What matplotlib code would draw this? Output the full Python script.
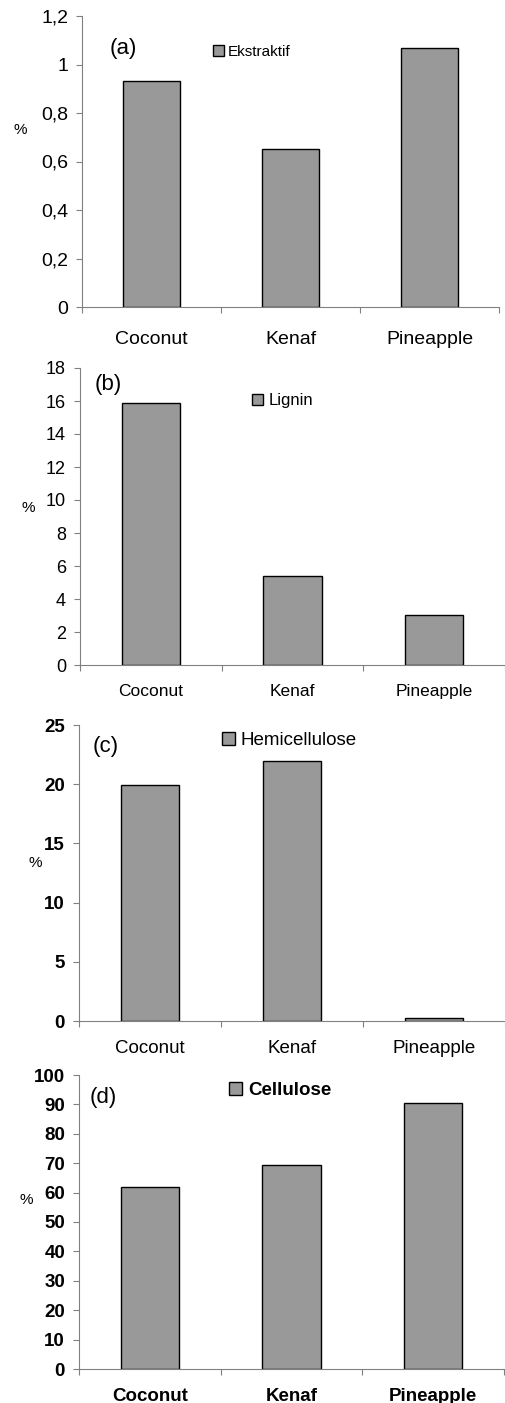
import matplotlib
matplotlib.use("Agg")
import matplotlib.pyplot as plt
from matplotlib.ticker import FixedLocator, FuncFormatter

plt.rcParams['font.family'] = ['Liberation Sans', 'DejaVu Sans']

# Data
fibers = ["Coconut", "Kenaf", "Pineapple"]
extractive = [0.93, 0.65, 1.07]
lignin = [15.9, 5.4, 3.05]
hemicellulose = [19.9, 22.0, 0.25]
cellulose = [62.0, 69.4, 90.5]

panel_names = ["(a)", "(b)", "(c)", "(d)"]
legend_names = ["Ekstraktif", "Lignin", "Hemicellulose", "Cellulose"]
y_maxes = [1.2, 18, 25, 100]
y_steps = [0.2, 2, 5, 10]

BAR_COLOR = "#999999"
AXIS_COLOR = "#808080"

# per panel layout in pixels (left, right, top, bottom) on a 505x1403 canvas
W, H = 505, 1403
boxes = [(82, 499, 16, 307), (80, 505, 368, 665), (79, 505, 725, 1021), (79, 504, 1075, 1369)]
legend_anchor = [(0.314, 0.876), (0.404, 0.89), (0.336, 0.949), (0.353, 0.947)]
tag_pos = [(0.067, 0.89), (0.035, 0.944), (0.032, 0.929), (0.024, 0.922)]
pct_pos = [(0.040, 0.907), (0.055, 0.638), (0.069, 0.385), (0.051, 0.145)]
ytick_weight = ["normal", "normal", "bold", "bold"]
ytick_size = [14, 13, 13.5, 13.5]
xtick_weight = ["normal", "normal", "normal", "bold"]
xtick_size = [14, 12.5, 13.5, 13.5]
xtick_pad = [17, 14, 14, 14]
legend_size = [11, 12, 13.5, 13.5]
legend_weight = ["normal", "normal", "normal", "bold"]


def comma_fmt(v, pos):
    s = f"{v:.1f}".rstrip("0").rstrip(".")
    return s.replace(".", ",")


fig = plt.figure(figsize=(W / 100, H / 100), dpi=100)
series = [extractive, lignin, hemicellulose, cellulose]

for i, values in enumerate(series):
    l, r, t, b = boxes[i]
    ax = fig.add_axes([l / W, 1 - b / H, (r - l) / W, (b - t) / H])

    x = list(range(len(fibers)))
    ax.bar(x, values, width=0.41, color=BAR_COLOR, edgecolor="black", linewidth=1.0,
           label=legend_names[i])

    ax.set_xlim(-0.5, len(fibers) - 0.5)
    ax.set_ylim(0, y_maxes[i])

    # y axis ticks
    n = int(round(y_maxes[i] / y_steps[i]))
    ax.set_yticks([k * y_steps[i] for k in range(n + 1)])
    if i == 0:
        ax.yaxis.set_major_formatter(FuncFormatter(comma_fmt))
    ax.tick_params(axis="y", direction="out", length=4, width=0.8, color=AXIS_COLOR,
                   labelsize=ytick_size[i], pad=6)
    for lab in ax.get_yticklabels():
        lab.set_fontweight(ytick_weight[i])

    # x axis: ticks between categories, labels at centers
    ax.xaxis.set_major_locator(FixedLocator([-0.5, 0.5, 1.5, 2.5]))
    ax.xaxis.set_major_formatter(FuncFormatter(lambda v, p: ""))
    ax.xaxis.set_minor_locator(FixedLocator(x))
    ax.set_xticklabels(fibers, minor=True)
    ax.tick_params(axis="x", which="major", direction="out", length=4, width=0.8,
                   color=AXIS_COLOR)
    ax.tick_params(axis="x", which="minor", length=0, labelsize=xtick_size[i],
                   pad=xtick_pad[i])
    for lab in ax.get_xticklabels(minor=True):
        lab.set_fontweight(xtick_weight[i])

    for side in ["top", "right"]:
        ax.spines[side].set_visible(False)
    for side in ["left", "bottom"]:
        ax.spines[side].set_color(AXIS_COLOR)
        ax.spines[side].set_linewidth(0.8)

    ax.legend(loc="center left", bbox_to_anchor=legend_anchor[i], frameon=False,
              prop={"size": legend_size[i], "weight": legend_weight[i]},
              handlelength=0.7, handleheight=0.7,
              handletextpad=0.3, borderpad=0, borderaxespad=0)

    ax.text(tag_pos[i][0], tag_pos[i][1], panel_names[i], transform=ax.transAxes,
            fontsize=16, va="center", ha="left")
    fig.text(pct_pos[i][0], pct_pos[i][1], "%", fontsize=11, ha="center", va="center")

fig.savefig("out.png", dpi=100)
